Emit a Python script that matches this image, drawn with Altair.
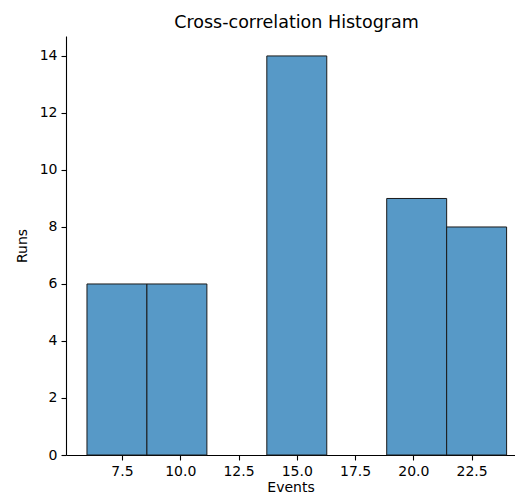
import altair as alt
import pandas as pd

bin_start = [6.0, 8.571, 11.143, 13.714, 16.286, 18.857, 21.429]
bin_end = [8.571, 11.143, 13.714, 16.286, 18.857, 21.429, 24.0]
counts = [6, 6, 0, 14, 0, 9, 8]
x_ticks = [7.5, 10.0, 12.5, 15.0, 17.5, 20.0, 22.5]
y_ticks = [0, 2, 4, 6, 8, 10, 12, 14]

df = pd.DataFrame({"start": bin_start, "end": bin_end, "count": counts})
df = df[df["count"] > 0]

FONT = "DejaVu Sans"

chart = alt.Chart(df).mark_bar(
    color="#5799c7", stroke="#1a1a1a", strokeWidth=1
).encode(
    x=alt.X("start:Q",
            scale=alt.Scale(domain=[5.1, 24.36], nice=False, zero=False),
            axis=alt.Axis(values=x_ticks, format=".1f", title="Events", grid=False,
                          titlePadding=2)),
    x2="end:Q",
    y=alt.Y("count:Q",
            scale=alt.Scale(domain=[0, 14.7], nice=False),
            axis=alt.Axis(values=y_ticks, title="Runs", grid=False, titlePadding=10)),
    y2=alt.datum(0),
).properties(
    width=449, height=419,
    autosize=alt.AutoSizeParams(type="none"),
    padding={"left": 66, "top": 36, "right": 0, "bottom": 38},
    title=alt.TitleParams("Cross-correlation Histogram", anchor="middle", dx=6, dy=16,
                          baseline="alphabetic", offset=7, fontSize=17.5,
                          font=FONT, fontWeight="normal", color="#000000"),
).configure_view(stroke=None).configure_axis(
    domainColor="#000000", domainWidth=1.1, tickColor="#000000", tickWidth=1.1,
    tickSize=5, labelFont=FONT, labelFontSize=14, labelColor="#000000",
    labelPadding=4, titleFont=FONT, titleFontSize=14, titleFontWeight="normal",
    titleColor="#000000",
).configure_axisY(labelPadding=4)

chart.save("out.html", embed_options={"renderer": "svg", "actions": False})
